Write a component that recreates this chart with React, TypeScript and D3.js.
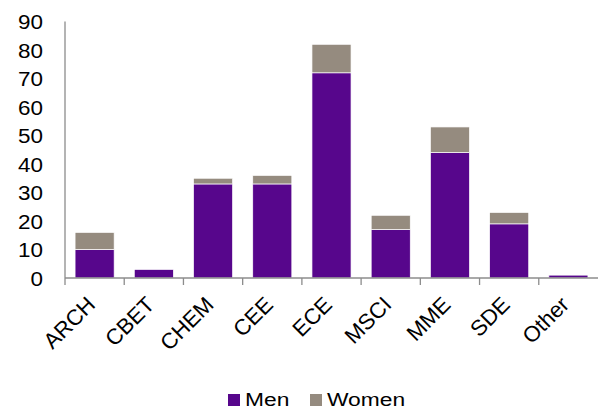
import React from "react";
import * as d3 from "d3";

const categories = ["ARCH", "CBET", "CHEM", "CEE", "ECE", "MSCI", "MME", "SDE", "Other"];
const men = [10, 3, 33, 33, 72, 17, 44, 19, 1];
const women = [6, 0, 2, 3, 10, 5, 9, 4, 0];
const seriesNames = ["Men", "Women"];
const yTicks = [0, 10, 20, 30, 40, 50, 60, 70, 80, 90];

const COLORS = ["#57068c", "#958b7f"];
const FONT = "'Liberation Sans', Arial, sans-serif";

export default function App() {
  const width = 598;
  const height = 410;
  const left = 65;
  const right = 598;
  const top = 21.5;
  const bottom = 278;

  const x = d3.scaleBand<string>().domain(categories).range([left, right]).paddingInner(0.34).paddingOuter(0.17);
  const y = d3.scaleLinear().domain([0, 90]).range([bottom, top]);
  const bandStep = (right - left) / categories.length;

  const rows = categories.map((c, i) => ({ cat: c, Men: men[i], Women: women[i] }));
  const stacked = d3.stack<any>().keys(seriesNames)(rows);

  return (
    <svg width={width} height={height} style={{ position: "absolute", left: 0, top: 0, fontFamily: FONT }}>
      <rect x={0} y={0} width={width} height={height} fill="#fff" />
      {/* stacked bars */}
      {stacked.map((layer, li) => (
        <g key={layer.key} fill={COLORS[li]}>
          {layer.map((d, i) =>
            d[1] - d[0] > 0 ? (
              <rect
                key={i}
                x={x(categories[i])}
                y={y(d[1])}
                width={x.bandwidth()}
                height={y(d[0]) - y(d[1])}
                stroke="#fff"
                strokeWidth={0.7}
              />
            ) : null
          )}
        </g>
      ))}
      {/* axes */}
      <line x1={left} x2={left} y1={top} y2={bottom} stroke="#8c8c8c" strokeWidth={1.3} />
      <line x1={left} x2={right} y1={bottom} y2={bottom} stroke="#8c8c8c" strokeWidth={1.3} />
      {categories.map((c, i) => (
        <line
          key={c}
          x1={left + i * bandStep}
          x2={left + i * bandStep}
          y1={bottom}
          y2={bottom + 7}
          stroke="#8c8c8c"
          strokeWidth={1.3}
        />
      ))}
      {yTicks.map((t) => (
        <text
          key={t}
          transform={`translate(43,${y(t)}) scale(1.07,1)`}
          dy="0.36em"
          textAnchor="end"
          fontSize={21}
          fill="#000"
        >
          {t}
        </text>
      ))}
      {categories.map((c) => {
        const cx = (x(c) as number) + x.bandwidth() / 2;
        return (
          <text
            key={c}
            transform={`translate(${cx + 2},${bottom + 28}) rotate(-45)`}
            textAnchor="end"
            fontSize={22}
            fill="#000"
          >
            {c}
          </text>
        );
      })}
      {/* legend */}
      {seriesNames.map((s, i) => {
        const lx = i === 0 ? 228 : 310;
        return (
          <g key={s}>
            <rect x={lx} y={394} width={12} height={12} fill={COLORS[i]} />
            <text transform={`translate(${lx + 17},405.5) scale(1.2,1)`} fontSize={19} fill="#000">
              {s}
            </text>
          </g>
        );
      })}
    </svg>
  );
}
